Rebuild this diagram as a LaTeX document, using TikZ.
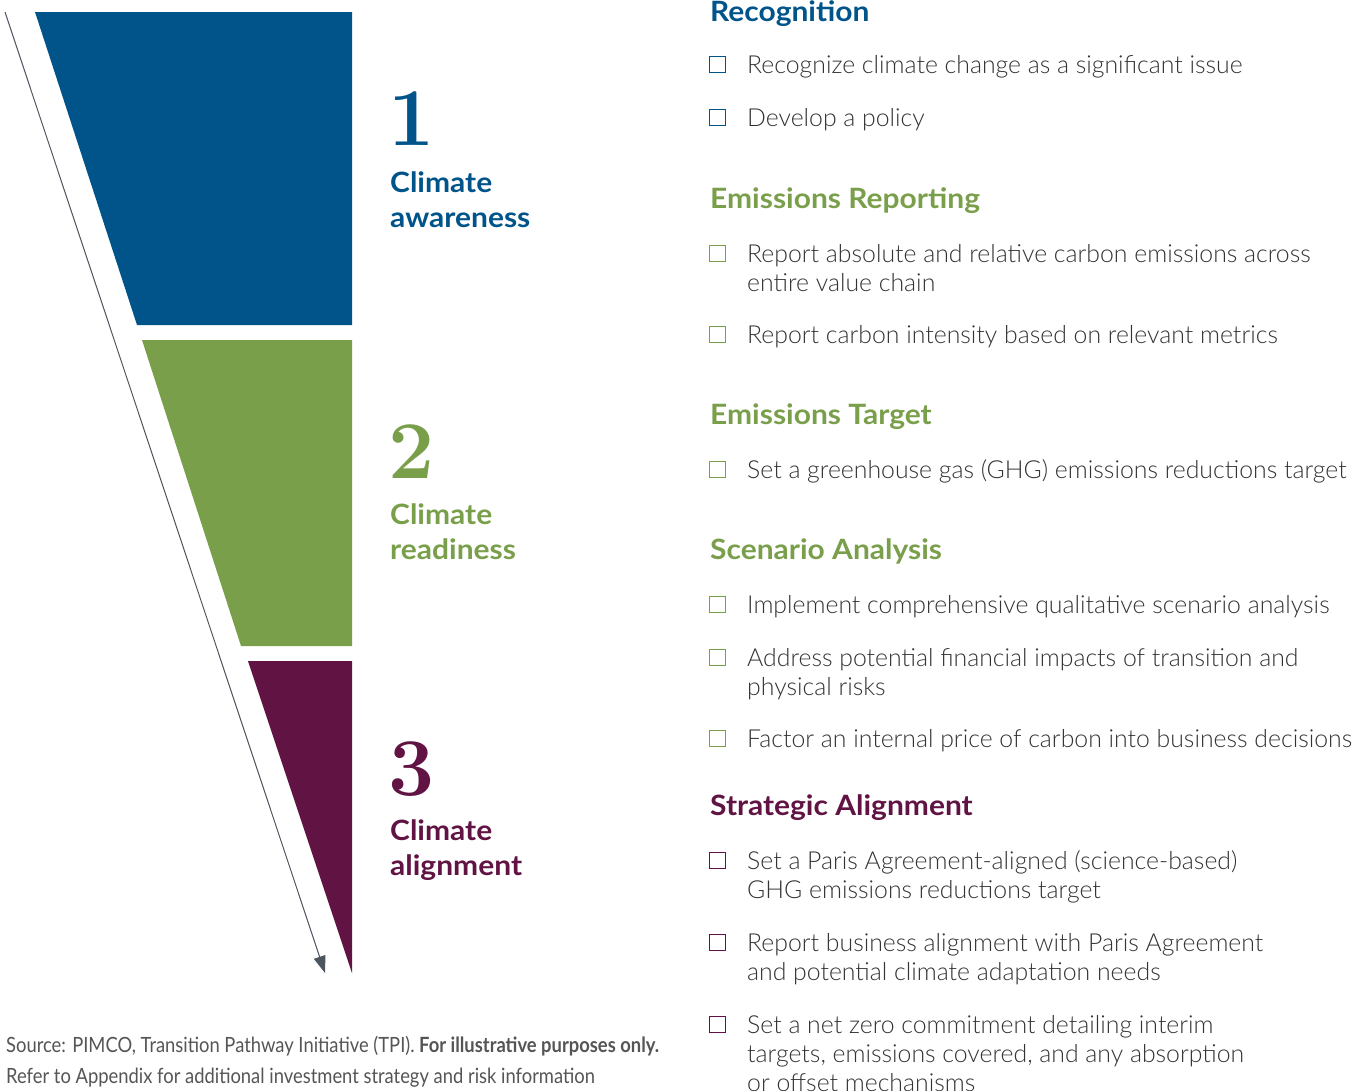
\documentclass[tikz,border=0pt]{standalone}
\usepackage{fontspec}
\setsansfont{Lato}[UprightFont=* Light, BoldFont=* Bold]
\newfontfamily\headfont{Lato Bold}[FakeStretch=1.07]
\newfontfamily\srcfont{Lato}[FakeStretch=0.875]
\usepackage{xcolor}
\definecolor{PimBlue}{RGB}{0,84,138}
\definecolor{PimGreen}{RGB}{122,159,75}
\definecolor{PimPurple}{RGB}{97,20,67}
\definecolor{PimText}{RGB}{51,51,51}
\definecolor{PimGray}{RGB}{85,85,85}
\definecolor{PimArrow}{RGB}{77,85,94}
\usetikzlibrary{positioning}
\usetikzlibrary{arrows.meta}

\begin{document}
\begin{tikzpicture}[
      x=1pt, y=-1pt
      , stage-num/.style={font=\rmfamily\bfseries\fontsize{82}{82}\selectfont, anchor=base west, inner sep=0pt}
      , stage-name/.style={font=\headfont\fontsize{28}{35}\selectfont, anchor=base west, inner sep=0pt, align=left}
      , group-head/.style={font=\headfont\fontsize{28}{32}\selectfont, anchor=base west, inner sep=0pt}
      , item/.style={font=\sffamily\fontsize{24.8}{29}\selectfont, text=PimText, anchor=base west, inner sep=0pt, align=left}
      , tick-box/.style={draw, line width=1.2pt, minimum size=16pt, inner sep=0pt, yshift=8.5pt}
      , src/.style={font=\srcfont\fontsize{21}{31}\selectfont, text=PimGray, anchor=base west, inner sep=0pt, align=left}
      ]

      \tikzset{>={Triangle[length=17pt, width=12pt]}}

      \useasboundingbox (0,0) rectangle (1364,1090);

      \fill[PimBlue] (35,12) -- (352,12) -- (352,325) -- (137,325) -- cycle;
      \fill[PimGreen] (142,340) -- (352,340) -- (352,646) -- (241,646) -- cycle;
      \fill[PimPurple] (248,661) -- (352,661) -- (352,973) -- cycle;

      \coordinate (arrow-start) at (5,12);
      \coordinate (arrow-end) at (325,973);
      \draw[->, color=PimArrow, line width=1pt] (arrow-start) -- (arrow-end);

      \node[stage-num, text=PimBlue] (num-1) at (388,145) {1};
      \node[stage-name, text=PimBlue] (stage-1) at (390,227) {Climate\\awareness};
      \node[stage-num, text=PimGreen] (num-2) at (388,478) {2};
      \node[stage-name, text=PimGreen] (stage-2) at (390,559) {Climate\\readiness};
      \node[stage-num, text=PimPurple] (num-3) at (388,795) {3};
      \node[stage-name, text=PimPurple] (stage-3) at (390,875) {Climate\\alignment};

      \node[group-head, text=PimBlue] (recognition) at (710,21) {Recognition};
      \node[item] (rec-1) at (747,73) {Recognize climate change as a significant issue};
      \node[tick-box, draw=PimBlue, left = 21pt of rec-1.base west] (rec-1-box) {};
      \node[item] (rec-2) at (747,126) {Develop a policy};
      \node[tick-box, draw=PimBlue, left = 21pt of rec-2.base west] (rec-2-box) {};

      \node[group-head, text=PimGreen] (reporting) at (710,208) {Emissions Reporting};
      \node[item] (rep-1) at (747,291) {Report absolute and relative carbon emissions across\\entire value chain};
      \node[tick-box, draw=PimGreen, left = 21pt of rep-1.base west, yshift=29pt] (rep-1-box) {};
      \node[item] (rep-2) at (747,343) {Report carbon intensity based on relevant metrics};
      \node[tick-box, draw=PimGreen, left = 21pt of rep-2.base west] (rep-2-box) {};

      \node[group-head, text=PimGreen] (target) at (710,424) {Emissions Target};
      \node[item] (tgt-1) at (747,478) {Set a greenhouse gas (GHG) emissions reductions target};
      \node[tick-box, draw=PimGreen, left = 21pt of tgt-1.base west] (tgt-1-box) {};

      \node[group-head, text=PimGreen] (scenario) at (710,559) {Scenario Analysis};
      \node[item] (scn-1) at (747,613) {Implement comprehensive qualitative scenario analysis};
      \node[tick-box, draw=PimGreen, left = 21pt of scn-1.base west] (scn-1-box) {};
      \node[item] (scn-2) at (747,695) {Address potential financial impacts of transition and\\physical risks};
      \node[tick-box, draw=PimGreen, left = 21pt of scn-2.base west, yshift=29pt] (scn-2-box) {};
      \node[item] (scn-3) at (747,747) {Factor an internal price of carbon into business decisions};
      \node[tick-box, draw=PimGreen, left = 21pt of scn-3.base west] (scn-3-box) {};

      \node[group-head, text=PimPurple] (strategic) at (710,815) {Strategic Alignment};
      \node[item] (str-1) at (747,898) {Set a Paris Agreement-aligned (science-based)\\GHG emissions reductions target};
      \node[tick-box, draw=PimPurple, left = 21pt of str-1.base west, yshift=29pt] (str-1-box) {};
      \node[item] (str-2) at (747,980) {Report business alignment with Paris Agreement\\and potential climate adaptation needs};
      \node[tick-box, draw=PimPurple, left = 21pt of str-2.base west, yshift=29pt] (str-2-box) {};
      \node[item] (str-3) at (747,1091) {Set a net zero commitment detailing interim\\targets, emissions covered, and any absorption\\or offset mechanisms};
      \node[tick-box, draw=PimPurple, left = 21pt of str-3.base west, yshift=58pt] (str-3-box) {};

      \node[src] (source) at (6,1083) {Source: PIMCO, Transition Pathway Initiative (TPI). \textbf{For illustrative purposes only.}\\Refer to Appendix for additional investment strategy and risk information};
    \end{tikzpicture}
\end{document}
